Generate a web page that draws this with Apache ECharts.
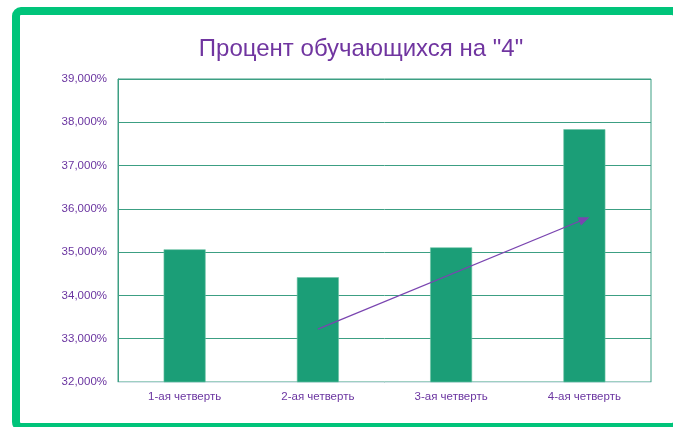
<!DOCTYPE html>
<html>
<head>
<meta charset="utf-8">
<script src="https://cdn.jsdelivr.net/npm/echarts@6/dist/echarts.min.js"></script>
<style>
html,body{margin:0;padding:0;background:#fff;}
#c{width:673px;height:427px;}
</style>
</head>
<body>
<div id="c"></div>
<script>
const titleText = 'Процент обучающихся на "4"';
const categories = ['1-ая четверть', '2-ая четверть', '3-ая четверть', '4-ая четверть'];
const values = [35.065, 34.42, 35.11, 37.84];
const yMin = 32, yMax = 39, yStep = 1;
const trendStart = ['2-ая четверть', 33.22];
const trendEnd = ['4-ая четверть', 35.76];

const purple = '#6a34a0';
const teal = '#3c9f83';
const chart = echarts.init(document.getElementById('c'), null, {renderer: 'canvas'});
chart.setOption({
  backgroundColor: '#fff',
  animation: false,
  title: {
    text: titleText,
    left: 356, top: 32, textAlign: 'center',
    textStyle: {color: '#7035A0', fontFamily: 'Liberation Sans', fontSize: 24, fontWeight: 'normal'}
  },
  graphic: [{
    type: 'rect', z: 100,
    shape: {x: 16, y: 11, width: 661, height: 416, r: 5},
    style: {fill: 'none', stroke: '#00C47A', lineWidth: 8}
  }],
  grid: {left: 118, right: 22, top: 79, bottom: 45, show: true, borderColor: teal, borderWidth: 1, backgroundColor: 'transparent'},
  xAxis: {
    type: 'category', data: categories,
    axisLine: {show: true, lineStyle: {color: '#d6e3ea', width: 1}},
    axisTick: {show: false},
    axisLabel: {color: purple, fontFamily: 'Liberation Sans', fontSize: 11.5, margin: 9}
  },
  yAxis: {
    type: 'value', min: yMin, max: yMax, interval: yStep,
    axisLine: {show: true, lineStyle: {color: teal}},
    axisTick: {show: false},
    splitLine: {lineStyle: {color: teal, width: 1}},
    axisLabel: {
      color: purple, fontFamily: 'Liberation Sans', fontSize: 11.5, margin: 11,
      formatter: v => v.toFixed(3).replace('.', ',') + '%'
    }
  },
  series: [{
    type: 'bar', data: values, barWidth: '31.5%',
    itemStyle: {color: '#1b9e77', borderColor: '#6cc3a4', borderWidth: 0.6},
    markLine: {
      silent: true, symbol: ['none', 'triangle'], symbolSize: [9, 11],
      label: {show: false},
      lineStyle: {color: '#7a45b0', width: 1.3, type: 'solid'},
      data: [[{coord: trendStart}, {coord: trendEnd}]]
    }
  }]
});
</script>
</body>
</html>
